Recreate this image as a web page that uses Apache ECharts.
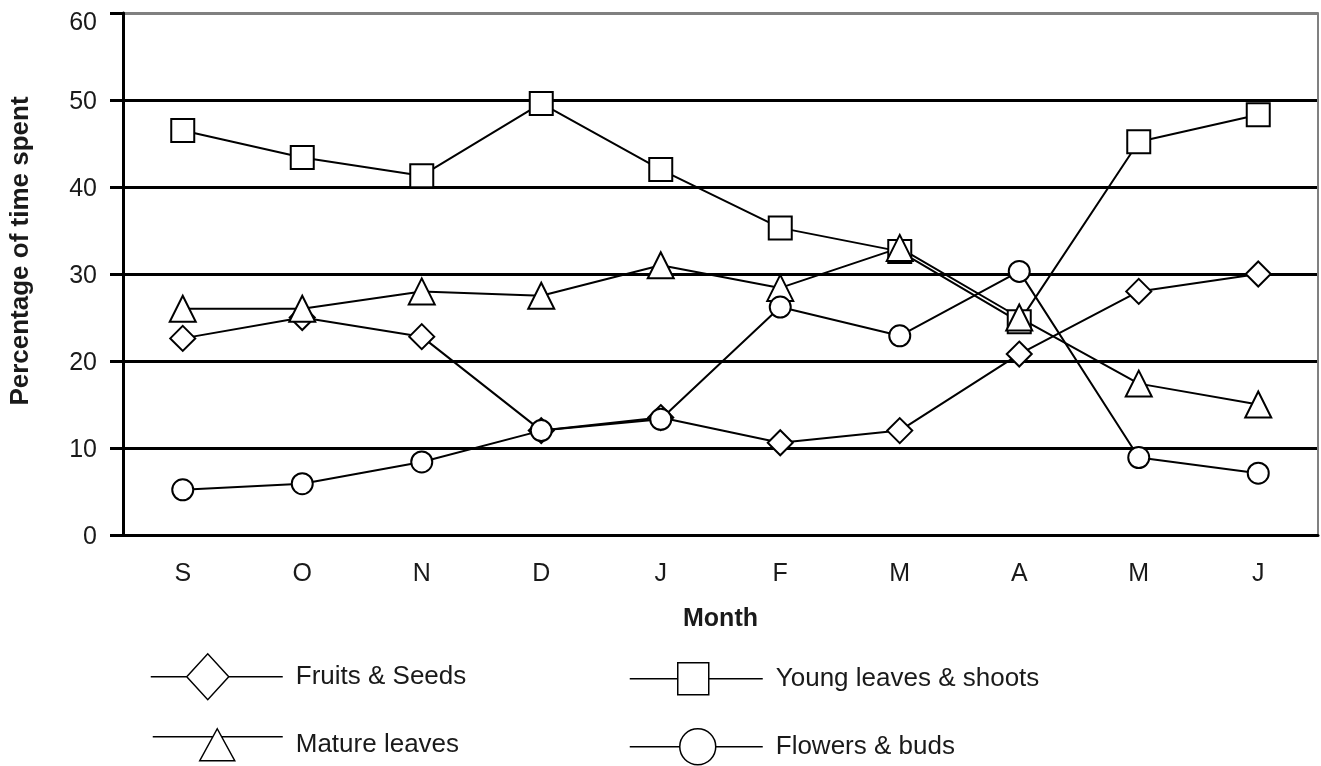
<!DOCTYPE html>
<html>
<head>
<meta charset="utf-8">
<title>Percentage of time spent</title>
<script src="https://cdn.jsdelivr.net/npm/echarts@6.0.0/dist/echarts.min.js"></script>
<style>
  html, body { margin: 0; padding: 0; background: #fff; }
  #main { width: 1321px; height: 766px; }
</style>
</head>
<body>
<div id="main"></div>
<script>
// months Sep -> Jun
var months = ["S", "O", "N", "D", "J", "F", "M", "A", "M", "J"];
var yTicks = [0, 10, 20, 30, 40, 50, 60];

var fruitsSeeds = [22.6, 25, 22.8, 12, 13.5, 10.6, 12, 20.8, 28, 30];
var youngLeaves = [46.5, 43.4, 41.3, 49.6, 42.0, 35.3, 32.6, 24.5, 45.2, 48.3];
var matureLeaves = [26, 26, 28, 27.5, 31, 28.4, 33, 25, 17.4, 15];
var flowersBuds = [5.2, 5.9, 8.4, 12, 13.3, 26.2, 22.9, 30.3, 8.9, 7.1];

var seriesNames = ["Fruits & Seeds", "Young leaves & shoots", "Mature leaves", "Flowers & buds"];

var font = "Liberation Sans, Arial, sans-serif";
var ink = "#1a1a1a";

var myChart = echarts.init(document.getElementById("main"));

function lineSeries(name, data, symbol, size) {
  return {
    name: name,
    type: "line",
    data: data,
    symbol: symbol,
    symbolSize: size,
    showAllSymbol: true,
    lineStyle: { color: "#000", width: 2 },
    itemStyle: { color: "#fff", borderColor: "#000", borderWidth: 2 },
    emphasis: { disabled: true }
  };
}

// legend: one small block per entry, icon = line + marker drawn as a path
function legendBlock(name, icon, left, top, w, h, padBottom) {
  return {
    data: [{ name: name, icon: icon }],
    left: left,
    top: top,
    padding: 0,
    itemWidth: w,
    itemHeight: h,
    selectedMode: false,
    itemStyle: { color: "#fff", borderColor: "#000", borderWidth: 1.5 },
    lineStyle: { color: "#000", width: 1.5 },
    textStyle: {
      fontFamily: font,
      fontSize: 26,
      color: ink,
      padding: [0, 0, padBottom, 8]
    }
  };
}

var option = {
  animation: false,
  backgroundColor: "#fff",
  textStyle: { fontFamily: font },
  grid: {
    left: 121,
    right: 3,
    top: 13,
    bottom: 231
  },
  legend: [
    legendBlock(seriesNames[0],
      "path://M0 23L36 23M36 23L57 0L78 23L57 46ZM78 23L132 23",
      150, 653, 132, 46, 4),
    legendBlock(seriesNames[1],
      "path://M0 16L48 16M48 0L79 0L79 32L48 32ZM79 16L133 16",
      629, 662, 133, 32, 8),
    legendBlock(seriesNames[2],
      "path://M0 8L60 8M64.5 0L82 32L47 32ZM69 8L130 8",
      152, 728, 130, 32, 8),
    legendBlock(seriesNames[3],
      "path://M0 18L50 18M50 18A18 18 0 1 1 86 18A18 18 0 1 1 50 18ZM86 18L133 18",
      629, 728, 133, 36, 12)
  ],
  xAxis: {
    type: "category",
    data: months,
    name: "Month",
    nameLocation: "middle",
    nameGap: 72,
    nameTextStyle: { fontSize: 25, fontWeight: "bold", color: ink },
    axisLine: { lineStyle: { color: "#000", width: 3 } },
    axisTick: { interval: 0, length: 9, lineStyle: { color: "#000", width: 3 } },
    axisLabel: { fontSize: 25, color: ink, margin: 27 },
    splitLine: { show: false }
  },
  yAxis: [
    {
      type: "value",
      min: yTicks[0],
      max: yTicks[yTicks.length - 1],
      interval: yTicks[1] - yTicks[0],
      name: "Percentage of time spent",
      nameLocation: "middle",
      nameGap: 89,
      nameTextStyle: {
        fontSize: 26,
        fontWeight: "bold",
        color: ink,
        padding: [0, 0, 0, 46]
      },
      axisLine: { show: true, lineStyle: { color: "#000", width: 3 } },
      axisTick: { show: true, length: 13, lineStyle: { color: "#000", width: 3 } },
      axisLabel: {
        margin: 26,
        // top label sits a bit lower than its line
        formatter: function (v) {
          return v === yTicks[yTicks.length - 1] ? "{top|" + v + "}" : "{n|" + v + "}";
        },
        rich: {
          top: { fontSize: 25, color: ink, fontFamily: font, padding: [20, 0, 0, 0] },
          n: { fontSize: 25, color: ink, fontFamily: font, padding: [4, 0, 0, 0] }
        }
      },
      splitLine: {
        show: true,
        lineStyle: {
          // last one (60) is the grey frame line
          color: ["#000", "#000", "#000", "#000", "#000", "#000", "#808080"],
          width: 3
        }
      }
    },
    {
      // right frame
      type: "value",
      position: "right",
      min: yTicks[0],
      max: yTicks[yTicks.length - 1],
      axisLine: { show: true, lineStyle: { color: "#808080", width: 2 } },
      axisTick: { show: false },
      axisLabel: { show: false },
      splitLine: { show: false }
    }
  ],
  series: [
    lineSeries(seriesNames[0], fruitsSeeds, "diamond", 25),
    lineSeries(seriesNames[1], youngLeaves, "rect", 23),
    lineSeries(seriesNames[2], matureLeaves, "triangle", 26),
    lineSeries(seriesNames[3], flowersBuds, "circle", 21)
  ]
};

myChart.setOption(option);
window.addEventListener("resize", function () {
  myChart.resize();
});
</script>
</body>
</html>
